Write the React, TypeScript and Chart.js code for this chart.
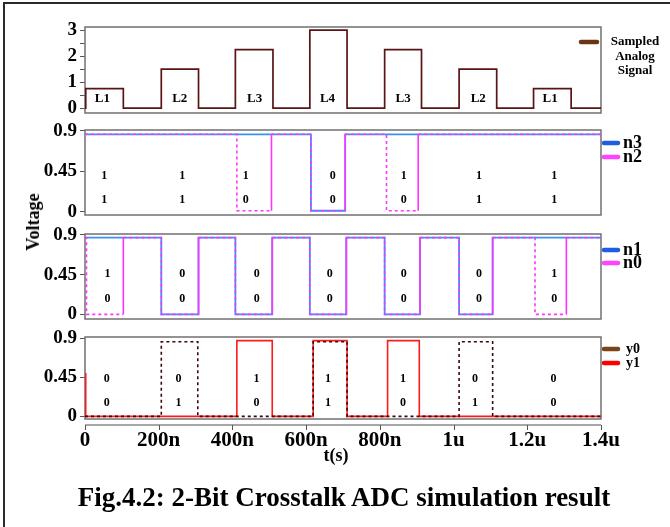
import React, { useEffect, useRef } from 'react';
import { Chart, registerables } from 'chart.js';
Chart.register(...registerables);

const W = 670;
const H = 527;
const PLOT_LEFT = 85;
const PLOT_RIGHT = 601;
const X_AXIS_H = 34;
const FONT = '"Liberation Serif", "Times New Roman", serif';

// ---- shared time axis (µs) ----
const xTickValues = [0, 0.2, 0.4, 0.6, 0.8, 1.0, 1.2, 1.4];
const xTickLabels = ['0', '200n', '400n', '600n', '800n', '1u', '1.2u', '1.4u'];

// ---- panel 1: sampled analog signal ----
const analogEdges = [0, 0.002, 0.104, 0.207, 0.308, 0.408, 0.51, 0.61, 0.711, 0.813, 0.913, 1.015, 1.117, 1.217, 1.319, 1.4];
const analogLevels = [0, 0.75, 0, 1.5, 0, 2.25, 0, 3.0, 0, 2.25, 0, 1.5, 0, 0.75, 0];
const analogTicks = [0, 0.5, 1, 1.5, 2, 2.5, 3];
const analogTickLabels = ['0', '', '1', '', '2', '', '3'];
const levelNames = ['L1', 'L2', 'L3', 'L4', 'L3', 'L2', 'L1'];
const levelNameT = [0.047, 0.257, 0.46, 0.658, 0.863, 1.067, 1.262];

// ---- digital panels ----
const voltTicks = [0, 0.45, 0.9];
const voltTickLabels = ['0', '0.45', '0.9'];

// panel 2: n3, n2
const n3Edges = [0, 0.613, 0.706, 1.4];
const n3Levels = [0.86, 0.01, 0.86];
const n2Edges = [0, 0.412, 0.506, 0.613, 0.706, 0.818, 0.904, 1.4];
const n2Levels = [0.86, 0.01, 0.86, 0.01, 0.86, 0.01, 0.86];
const p2DigitT = [0.052, 0.264, 0.436, 0.672, 0.865, 1.069, 1.273];
const n3Digits = ['1', '1', '1', '0', '1', '1', '1'];
const n2Digits = ['1', '1', '0', '0', '0', '1', '1'];

// panel 3: n1, n0
const n1Edges = [0, 0.207, 0.308, 0.408, 0.508, 0.61, 0.709, 0.813, 0.909, 1.015, 1.106, 1.4];
const n1Levels = [0.87, 0, 0.87, 0, 0.87, 0, 0.87, 0, 0.87, 0, 0.87];
const n0Edges = [0, 0.004, 0.104, 0.207, 0.308, 0.408, 0.508, 0.61, 0.709, 0.813, 0.909, 1.015, 1.106, 1.221, 1.306, 1.4];
const n0Levels = [0.87, 0, 0.87, 0, 0.87, 0, 0.87, 0, 0.87, 0, 0.87, 0, 0.87, 0, 0.87];
const p3DigitT = [0.061, 0.264, 0.466, 0.664, 0.865, 1.069, 1.273];
const n1Digits = ['1', '0', '0', '0', '0', '0', '1'];
const n0Digits = ['0', '0', '0', '0', '0', '0', '0'];

// panel 4: y0, y1
const y1Edges = [0, 0.002, 0.412, 0.508, 0.619, 0.711, 0.821, 0.907, 1.4];
const y1Levels = [0.5, 0, 0.873, 0, 0.873, 0, 0.873, 0];
const y0Edges = [0, 0.207, 0.306, 0.619, 0.711, 1.015, 1.106, 1.4];
const y0Levels = [0, 0.86, 0, 0.86, 0, 0.86, 0];
const p4DigitT = [0.059, 0.254, 0.465, 0.659, 0.863, 1.058, 1.271];
const y1Digits = ['0', '0', '1', '1', '1', '0', '0'];
const y0Digits = ['0', '1', '0', '1', '0', '1', '0'];

type Series = { edges: number[]; levels: number[]; color: string; width: number; dash?: number[]; solidRise?: boolean };
type Note = { t: number[]; v: number; texts: string[]; size: number };
type LegendEntry = { y: number; color: string; text: string };
type Panel = {
  top: number; bottom: number; yMin: number; yMax: number;
  yTicks: number[]; yLabels: string[]; showX: boolean;
  series: Series[]; notes: Note[];
  legend: { x1: number; x2: number; textX: number; size: number; entries: LegendEntry[]; multiline?: string[]; lineGap?: number; center?: number };
};

const panels: Panel[] = [
  {
    top: 27, bottom: 113, yMin: -0.19, yMax: 3.12, yTicks: analogTicks, yLabels: analogTickLabels, showX: false,
    series: [{ edges: analogEdges, levels: analogLevels, color: '#5a1414', width: 1.7 }],
    notes: [{ t: levelNameT, v: 0.35, texts: levelNames, size: 13 }],
    legend: { x1: 581, x2: 597, textX: 635, size: 13, entries: [{ y: 42, color: '#6b3412', text: '' }], multiline: ['Sampled', 'Analog', 'Signal'], lineGap: 14.5, center: 635 },
  },
  {
    top: 130, bottom: 215, yMin: -0.037, yMax: 0.908, yTicks: voltTicks, yLabels: voltTickLabels, showX: false,
    series: [
      { edges: n2Edges, levels: n2Levels, color: '#ff33ff', width: 1.6, dash: [3, 3], solidRise: true },
      { edges: n3Edges, levels: n3Levels, color: '#3d8ff0', width: 1.8 },
    ],
    notes: [
      { t: p2DigitT, v: 0.397, texts: n3Digits, size: 12 },
      { t: p2DigitT, v: 0.13, texts: n2Digits, size: 12 },
    ],
    legend: { x1: 604, x2: 618, textX: 623, size: 18, entries: [{ y: 143, color: '#1f5ee0', text: 'n3' }, { y: 157, color: '#ff44ff', text: 'n2' }] },
  },
  {
    top: 234, bottom: 319, yMin: -0.053, yMax: 0.911, yTicks: voltTicks, yLabels: voltTickLabels, showX: false,
    series: [
      { edges: n0Edges, levels: n0Levels, color: '#ff33ff', width: 1.6, dash: [3, 3], solidRise: true },
      { edges: n1Edges, levels: n1Levels, color: '#3d8ff0', width: 1.8 },
    ],
    notes: [
      { t: p3DigitT, v: 0.454, texts: n1Digits, size: 12 },
      { t: p3DigitT, v: 0.174, texts: n0Digits, size: 12 },
    ],
    legend: { x1: 604, x2: 618, textX: 623, size: 18, entries: [{ y: 250, color: '#1f5ee0', text: 'n1' }, { y: 263, color: '#ff44ff', text: 'n0' }] },
  },
  {
    top: 337, bottom: 419, yMin: -0.03, yMax: 0.915, yTicks: voltTicks, yLabels: voltTickLabels, showX: true,
    series: [
      { edges: y0Edges, levels: y0Levels, color: '#3a0808', width: 1.6, dash: [3, 3] },
      { edges: y1Edges, levels: y1Levels, color: '#ff1a1a', width: 1.6 },
    ],
    notes: [
      { t: p4DigitT, v: 0.433, texts: y1Digits, size: 12 },
      { t: p4DigitT, v: 0.154, texts: y0Digits, size: 12 },
    ],
    legend: { x1: 604, x2: 618, textX: 626, size: 14, entries: [{ y: 349, color: '#7a4318', text: 'y0' }, { y: 363, color: '#ff0000', text: 'y1' }] },
  },
];

function stepPoints(edges: number[], levels: number[]) {
  const pts: { x: number; y: number }[] = [];
  for (let i = 0; i < levels.length; i++) {
    pts.push({ x: edges[i], y: levels[i] });
    pts.push({ x: edges[i + 1], y: levels[i] });
  }
  return pts;
}

function decorPlugin(p: Panel) {
  return {
    id: 'panelDecor',
    beforeDatasetsDraw(chart: any) {
      const { ctx, chartArea: a } = chart;
      ctx.save();
      ctx.strokeStyle = '#707070';
      ctx.lineWidth = 1.5;
      ctx.strokeRect(a.left, a.top, a.right - a.left, a.bottom - a.top);
      if (p.showX) {
        // separate time axis line below the plot box, with outward tick marks
        const xs = chart.scales.x;
        const yAxis = a.bottom + 6;
        ctx.strokeStyle = '#8a8a8a';
        ctx.lineWidth = 1.5;
        ctx.beginPath();
        ctx.moveTo(a.left, yAxis);
        ctx.lineTo(a.right, yAxis);
        ctx.stroke();
        ctx.strokeStyle = '#555';
        ctx.lineWidth = 1;
        xTickValues.forEach((v) => {
          const px = Math.round(xs.getPixelForValue(v)) + 0.5;
          ctx.beginPath();
          ctx.moveTo(px, yAxis);
          ctx.lineTo(px, yAxis + 5);
          ctx.stroke();
        });
      }
      ctx.restore();
    },
    afterDatasetsDraw(chart: any) {
      const { ctx } = chart;
      const xs = chart.scales.x;
      const ys = chart.scales.y;
      ctx.save();
      ctx.fillStyle = '#000';
      ctx.textAlign = 'center';
      ctx.textBaseline = 'middle';
      p.notes.forEach((n) => {
        ctx.font = `bold ${n.size}px ${FONT}`;
        n.t.forEach((t, i) => {
          ctx.fillText(n.texts[i], xs.getPixelForValue(t), ys.getPixelForValue(n.v));
        });
      });
      ctx.restore();
    },
    afterDraw(chart: any) {
      const { ctx } = chart;
      const L = p.legend;
      ctx.save();
      ctx.lineCap = 'round';
      ctx.lineWidth = 4.5;
      L.entries.forEach((e) => {
        ctx.strokeStyle = e.color;
        ctx.beginPath();
        ctx.moveTo(L.x1, e.y);
        ctx.lineTo(L.x2, e.y);
        ctx.stroke();
      });
      ctx.fillStyle = '#000';
      ctx.textBaseline = 'middle';
      ctx.font = `bold ${L.size}px ${FONT}`;
      if (L.multiline) {
        ctx.textAlign = 'center';
        L.multiline.forEach((s, i) => ctx.fillText(s, L.center!, L.entries[0].y + i * (L.lineGap || 14)));
      } else {
        ctx.textAlign = 'left';
        L.entries.forEach((e) => ctx.fillText(e.text, L.textX, e.y));
      }
      ctx.restore();
    },
  };
}

function buildConfig(p: Panel): any {
  const datasets = p.series.map((s) => ({
    data: stepPoints(s.edges, s.levels),
    borderColor: s.color,
    borderWidth: s.width,
    borderDash: s.dash || [],
    pointRadius: 0,
    fill: false,
    tension: 0,
    segment: {
      borderDash: (ctx: any) => {
        if (!s.dash) return [];
        if (s.solidRise && ctx.p0.parsed.x === ctx.p1.parsed.x && ctx.p1.parsed.y > ctx.p0.parsed.y) return [];
        return s.dash;
      },
    },
  }));
  const tickFont = { family: FONT, size: 19, weight: 'bold' as const };
  const xScale: any = {
    type: 'linear',
    min: 0,
    max: 1.4,
    display: p.showX,
    afterBuildTicks: (s: any) => {
      s.ticks = xTickValues.map((v) => ({ value: v }));
    },
    ticks: {
      callback: (v: number) => xTickLabels[xTickValues.indexOf(v)],
      font: { family: FONT, size: 21, weight: 'bold' },
      color: '#000',
      padding: 1,
      maxRotation: 0,
      autoSkip: false,
    },
    grid: { display: false },
    border: { display: false },
  };
  if (p.showX) {
    xScale.afterFit = (s: any) => {
      s.height = X_AXIS_H;
    };
  }
  return {
    type: 'line',
    data: { datasets },
    options: {
      animation: false,
      responsive: false,
      devicePixelRatio: 1,
      events: [],
      layout: {
        padding: { left: 0, right: W - PLOT_RIGHT, top: p.top, bottom: H - p.bottom - (p.showX ? X_AXIS_H : 0) },
      },
      plugins: { legend: { display: false }, tooltip: { enabled: false }, title: { display: false } },
      scales: {
        x: xScale,
        y: {
          type: 'linear',
          min: p.yMin,
          max: p.yMax,
          afterBuildTicks: (s: any) => {
            s.ticks = p.yTicks.map((v) => ({ value: v }));
          },
          afterFit: (s: any) => {
            s.width = PLOT_LEFT;
          },
          ticks: {
            callback: (v: number) => p.yLabels[p.yTicks.indexOf(v)],
            font: tickFont,
            color: '#000',
            padding: 3,
            autoSkip: false,
          },
          grid: { drawOnChartArea: false, tickLength: 5, color: '#555', lineWidth: 1 },
          border: { display: false },
        },
      },
    },
    plugins: [decorPlugin(p)],
  };
}

export default function App() {
  const refs = useRef<(HTMLCanvasElement | null)[]>([]);
  useEffect(() => {
    const charts = panels.map((p, i) => new Chart(refs.current[i] as HTMLCanvasElement, buildConfig(p)));
    return () => charts.forEach((c) => c.destroy());
  }, []);
  return (
    <div style={{ position: 'fixed', left: 0, top: 0, width: W, height: H, overflow: 'hidden', background: '#fff', fontFamily: FONT }}>
      <div style={{ position: 'absolute', left: 3, top: 2, width: 720, height: 600, borderLeft: '2px solid #2a2a2a', borderTop: '2px solid #2a2a2a' }} />
      {panels.map((_, i) => (
        <canvas
          key={i}
          ref={(el) => {
            refs.current[i] = el;
          }}
          width={W}
          height={H}
          style={{ position: 'absolute', left: 0, top: 0, width: W, height: H }}
        />
      ))}
      <div style={{ position: 'absolute', left: 33, top: 222, transform: 'translate(-50%, -50%) rotate(-90deg)', fontWeight: 'bold', fontSize: 18, lineHeight: 1, whiteSpace: 'nowrap' }}>Voltage</div>
      <div style={{ position: 'absolute', left: 336, top: 455, transform: 'translate(-50%, -50%)', fontWeight: 'bold', fontSize: 18, lineHeight: 1, whiteSpace: 'nowrap' }}>t(s)</div>
      <div style={{ position: 'absolute', left: 344, top: 497, transform: 'translate(-50%, -50%)', fontWeight: 'bold', fontSize: 27, lineHeight: 1, whiteSpace: 'nowrap' }}>Fig.4.2: 2-Bit Crosstalk ADC simulation result</div>
    </div>
  );
}
